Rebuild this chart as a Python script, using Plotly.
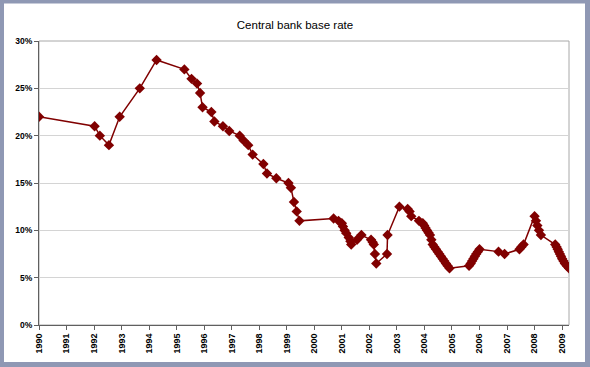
import plotly.graph_objects as go

# Decimal-year dates and base rate values (%)
dates = [
    1990.00, 1992.02, 1992.21, 1992.54, 1992.93, 1993.66, 1994.27,
    1995.28, 1995.54, 1995.74, 1995.85, 1995.94, 1996.26, 1996.37,
    1996.68, 1996.91, 1997.29, 1997.43, 1997.60, 1997.76, 1998.15,
    1998.28, 1998.62, 1999.06, 1999.15, 1999.26, 1999.36, 1999.46,
    2000.70, 2000.88, 2001.00, 2001.04, 2001.10, 2001.16, 2001.25,
    2001.31, 2001.34, 2001.55, 2001.71, 2002.06, 2002.12, 2002.16,
    2002.20, 2002.25, 2002.64, 2002.66, 2003.09, 2003.39, 2003.46,
    2003.52, 2003.80, 2003.94, 2003.99, 2004.04, 2004.09, 2004.15,
    2004.20, 2004.25, 2004.30, 2004.36, 2004.42, 2004.48, 2004.54,
    2004.60, 2004.66, 2004.72, 2004.78, 2004.84, 2004.91,
    2005.62, 2005.68, 2005.73, 2005.78, 2005.83, 2005.88, 2005.94,
    2006.00, 2006.69, 2006.91, 2007.45, 2007.52, 2007.60,
    2008.00, 2008.05, 2008.10, 2008.16, 2008.23,
    2008.75, 2008.80, 2008.84, 2008.88, 2008.92, 2008.96, 2009.00,
    2009.05, 2009.10, 2009.17, 2009.25,
]
rates = [
    22.0, 21.0, 20.0, 19.0, 22.0, 25.0, 28.0,
    27.0, 26.0, 25.5, 24.5, 23.0, 22.5, 21.5,
    21.0, 20.5, 20.0, 19.5, 19.0, 18.0, 17.0,
    16.0, 15.5, 15.0, 14.5, 13.0, 12.0, 11.0,
    11.25, 11.0, 10.75, 10.4, 10.0, 9.7, 9.25,
    8.85, 8.5, 9.0, 9.5, 9.0, 8.75, 8.5,
    7.5, 6.5, 7.5, 9.5, 12.5, 12.25, 12.0,
    11.5, 11.0, 10.75, 10.5, 10.25, 10.0, 9.75,
    9.5, 9.0, 8.5, 8.25, 8.0, 7.75, 7.5,
    7.25, 7.0, 6.75, 6.5, 6.25, 6.0,
    6.25, 6.5, 6.75, 7.0, 7.25, 7.5, 7.75,
    8.0, 7.75, 7.5, 8.0, 8.25, 8.5,
    11.5, 11.0, 10.5, 10.0, 9.5,
    8.5, 8.25, 8.0, 7.75, 7.5, 7.25, 7.0,
    6.75, 6.5, 6.25, 6.0,
]
year_ticks = list(range(1990, 2010))
year_labels = [str(y) for y in year_ticks]
pct_ticks = [0, 5, 10, 15, 20, 25, 30]
pct_labels = [f"{v}%" for v in pct_ticks]

title_text = "Central bank base rate"

W, H = 590, 367
ML, MR, MT, MB = 39, 21, 41, 42
PW, PH = W - ML - MR, H - MT - MB

def px_x(p):
    return (p - ML) / PW

def px_y(p):
    return (H - MB - p) / PH

border = "#8F98B4"
fig = go.Figure()
fig.add_trace(go.Scatter(
    x=dates, y=[r / 100 for r in rates], mode="lines+markers",
    line=dict(color="#800000", width=1.5),
    marker=dict(symbol="diamond", size=8, color="#800000"),
    showlegend=False, hoverinfo="skip",
))

shapes = []
# plot-area border
shapes.append(dict(type="rect", xref="paper", yref="paper", x0=0, x1=1, y0=0, y1=1,
                   line=dict(color="#A8A8A8", width=1), layer="below"))
# outer frame
for (x0, x1, y0, y1) in [(0, 4, 0, H), (0, W, 0, 3.5), (585, W, 0, H), (0, W, 362, H)]:
    shapes.append(dict(type="rect", xref="paper", yref="paper",
                       x0=px_x(x0), x1=px_x(x1), y0=px_y(y1), y1=px_y(y0),
                       fillcolor=border, line=dict(width=0), layer="above"))

fig.update_layout(
    width=W, height=H,
    margin=dict(l=ML, r=MR, t=MT, b=MB),
    paper_bgcolor="white", plot_bgcolor="white",
    font=dict(family="Liberation Sans, Arial, sans-serif", color="black"),
    title=dict(text=title_text, x=0.5, xanchor="center", y=1 - 25 / H, yanchor="middle",
               font=dict(size=11.5, color="black")),
    shapes=shapes,
    xaxis=dict(
        range=[1990, 2009.25], tickmode="array", tickvals=year_ticks, ticktext=year_labels,
        tickangle=-90, ticks="outside", ticklen=4, tickcolor="#606060",
        showgrid=False, zeroline=False, showline=True, linecolor="#606060", linewidth=1,
        tickfont=dict(size=9, color="black", weight="bold"),
    ),
    yaxis=dict(
        range=[0, 0.30], tickmode="array", tickvals=[v / 100 for v in pct_ticks], ticktext=pct_labels,
        ticks="outside", ticklen=4, tickcolor="#606060",
        showgrid=True, gridcolor="#D4D4D4", gridwidth=1, zeroline=False,
        showline=True, linecolor="#606060", linewidth=1,
        tickfont=dict(size=8.5, color="black", weight="bold"),
    ),
)

fig.write_html(
    "out.html",
    config={"displayModeBar": False, "staticPlot": True},
    post_script="document.body.style.margin='0';document.body.style.overflow='hidden';",
)
